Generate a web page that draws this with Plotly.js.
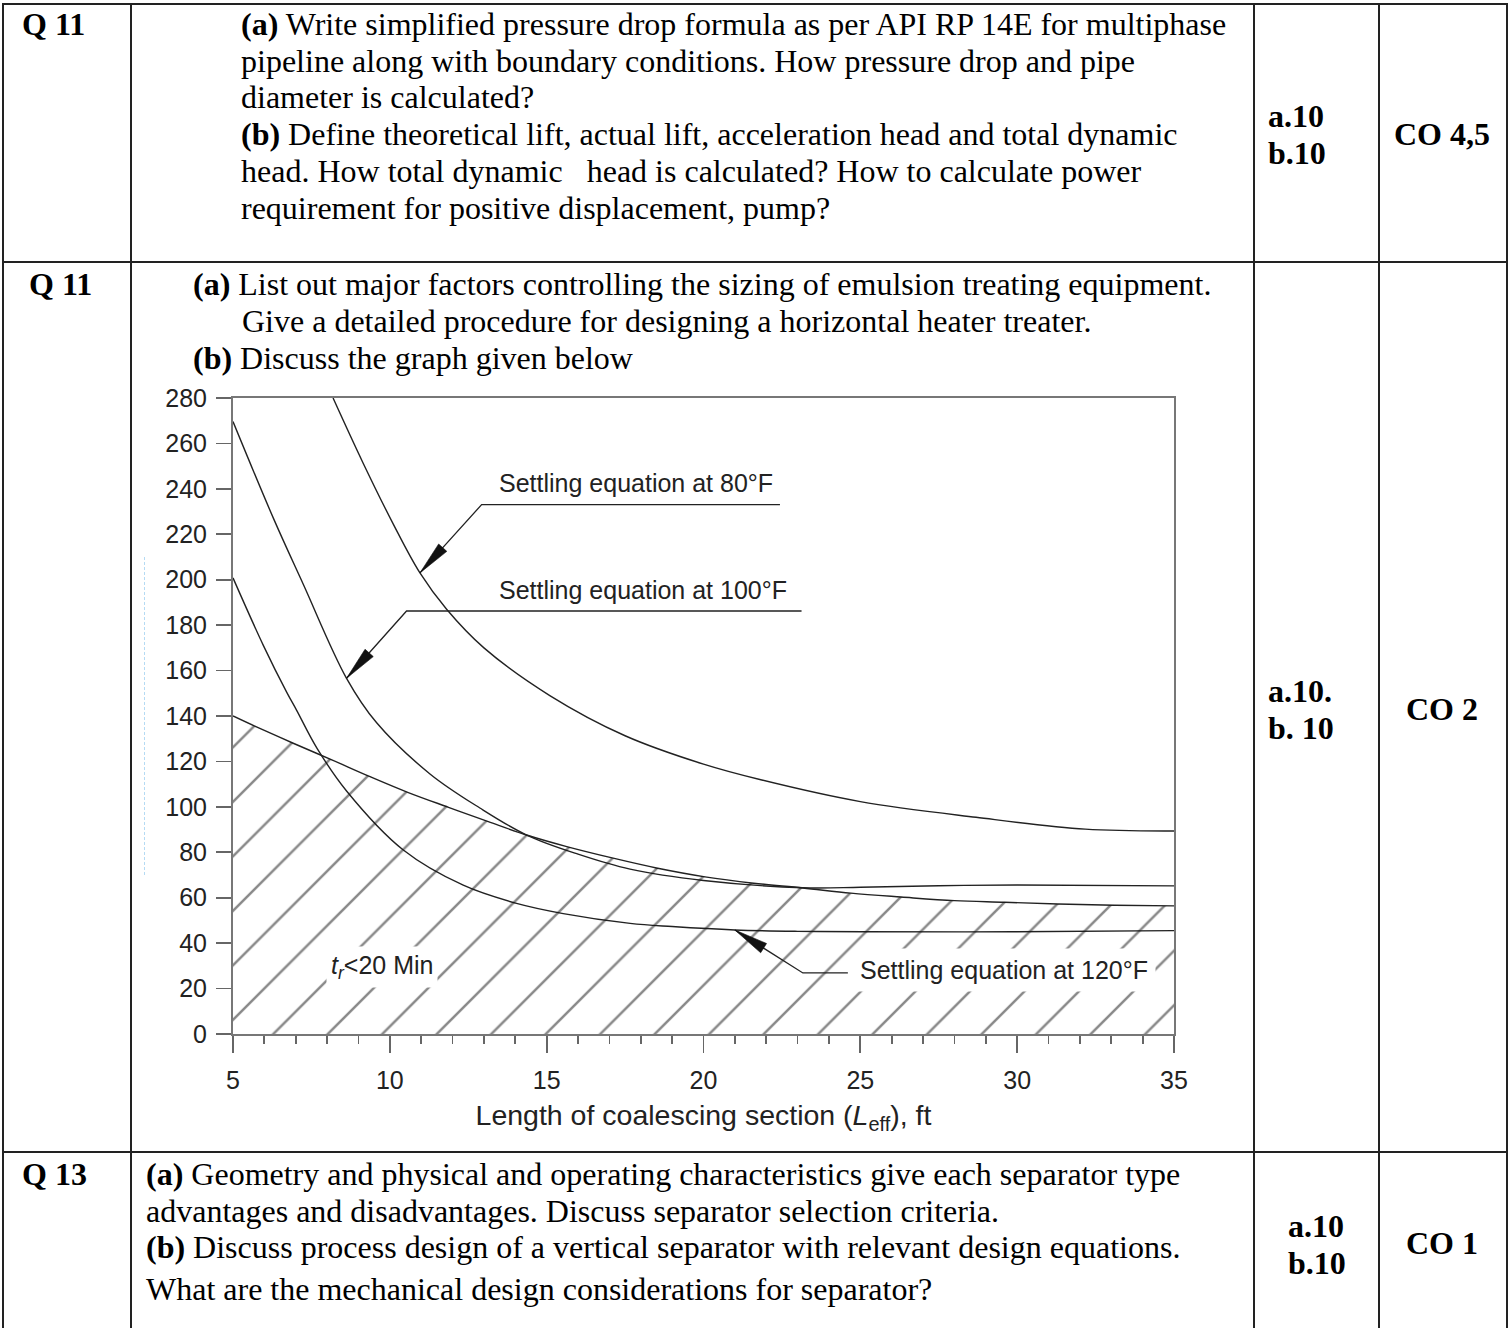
<!DOCTYPE html>
<html>
<head>
<meta charset="utf-8">
<script src="https://cdn.plot.ly/plotly-3.0.1.min.js"></script>
<style>
  body { margin: 0; background: #fff; }
  #page { position: relative; width: 1510px; height: 1328px; overflow: hidden; background: #fff; }
  #chart { position: absolute; left: 0; top: 0; width: 1510px; height: 1328px; }
  .t { position: absolute; font-family: "Liberation Serif", "Times New Roman", serif; color: #000; white-space: pre; }
  .ln { position: absolute; background: #222; }
</style>
</head>
<body>
<div id="page"><div id="chart"></div></div>
<script>
// ---------------- data ----------------
const xTickVals = [5, 10, 15, 20, 25, 30, 35];
const yTickVals = [0, 20, 40, 60, 80, 100, 120, 140, 160, 180, 200, 220, 240, 260, 280];

// Settling equation at 80°F
const x80 = [8.19, 9.15, 10.11, 10.96, 11.81, 13.0, 15.1, 17.5, 20.0, 21.86, 25.0, 28.69, 32.17, 35];
const y80 = [280, 251.3, 224.5, 203, 187, 170, 149, 131.3, 118.8, 111.8, 102.3, 95.4, 90.2, 89.4];
// Settling equation at 100°F
const x100 = [5, 6.29, 7.24, 8.62, 9.58, 11.28, 12.87, 14.36, 16.0, 17.66, 20.0, 23.17, 25.0, 27.5, 30.0, 35];
const y100 = [269.6, 227, 198, 156.6, 137, 114.5, 99.5, 87.6, 79.2, 72.6, 67.6, 64.4, 64.6, 65.3, 65.6, 65.2];
// Settling equation at 120°F
const x120 = [5, 5.97, 6.71, 7.03, 7.67, 8.62, 10.43, 12.34, 14.04, 15.53, 17.66, 19.0, 21.0, 23.0, 25.1, 29.9, 35];
const y120 = [200.8, 171, 150.5, 142.5, 126, 107, 81, 65.5, 57.5, 53, 48.7, 47.3, 45.8, 45.2, 45, 45, 45.5];
// Retention time limit line (t_r < 20 min below)
const xRet = [5, 5.73, 6.92, 8.15, 9.37, 10.59, 11.87, 13.14, 14.36, 15.64, 17.12, 18.5, 20.05, 21.6, 23.17, 24.7, 26.3, 28.0, 29.6, 31.3, 33.1, 35];
const yRet = [140, 135.3, 128, 120.7, 113.3, 106.3, 99.8, 93.5, 87.6, 82.5, 77.4, 73.1, 69.2, 66.4, 64.3, 62, 60.3, 58.7, 58, 57.2, 56.7, 56.4];

const curveLabels = ['Settling equation at 80°F', 'Settling equation at 100°F', 'Settling equation at 120°F'];
const arrowTipIndex = [3, 3, 12];          // point of each curve the arrow points at
const regionLabel = '<i>t<sub>r</sub></i>&lt;20 Min';
const regionLabelAt = [9.74, 29.6];
const xTitle = 'Length of coalescing section (<i>L</i><sub>eff</sub>), ft';

// table text
const qLabels = ['Q 11', 'Q 11', 'Q 13'];
const row1Lines = [
  '<b>(a)</b> Write simplified pressure drop formula as per API RP 14E for multiphase',
  'pipeline along with boundary conditions. How pressure drop and pipe',
  'diameter is calculated?',
  '<b>(b)</b> Define theoretical lift, actual lift, acceleration head and total dynamic',
  'head. How total dynamic   head is calculated? How to calculate power',
  'requirement for positive displacement, pump?'
];
const row2Lines = [
  '<b>(a)</b> List out major factors controlling the sizing of emulsion treating equipment.',
  'Give a detailed procedure for designing a horizontal heater treater.',
  '<b>(b)</b> Discuss the graph given below'
];
const row3Lines = [
  '<b>(a)</b> Geometry and physical and operating characteristics give each separator type',
  'advantages and disadvantages. Discuss separator selection criteria.',
  '<b>(b)</b> Discuss process design of a vertical separator with relevant design equations.',
  'What are the mechanical design considerations for separator?'
];
const marks = [['a.10', 'b.10'], ['a.10.', 'b. 10'], ['a.10', 'b.10']];
const coLabels = ['CO 4,5', 'CO 2', 'CO 1'];

// ---------------- page: table ----------------
const page = document.getElementById('page');
function hline(y, x0, x1) { const d = document.createElement('div'); d.className = 'ln'; Object.assign(d.style, {left: x0 + 'px', top: y + 'px', width: (x1 - x0) + 'px', height: '2px'}); page.appendChild(d); }
function vline(x, y0, y1) { const d = document.createElement('div'); d.className = 'ln'; Object.assign(d.style, {left: x + 'px', top: y0 + 'px', width: '2px', height: (y1 - y0) + 'px'}); page.appendChild(d); }
function txt(html, x, base, size, bold) {
  const d = document.createElement('div'); d.className = 't';
  d.style.left = x + 'px'; d.style.top = (base - 0.8375 * size) + 'px';
  d.style.fontSize = size + 'px'; d.style.lineHeight = size + 'px';
  if (bold) d.style.fontWeight = 'bold';
  d.innerHTML = html; page.appendChild(d);
}
hline(3, 2, 1508); hline(261, 2, 1508); hline(1151, 2, 1508);
[2, 130, 1253, 1378, 1506].forEach(x => vline(x, 3, 1328));

const FS = 32;
txt(qLabels[0], 22, 35, FS, true);
row1Lines.forEach((s, i) => txt(s, 241, 34.5 + 36.8 * i, FS));
txt(marks[0][0], 1268, 127, FS, true); txt(marks[0][1], 1268, 163.5, FS, true);
txt(coLabels[0], 1394, 145, FS, true);

txt(qLabels[1], 29, 295, FS, true);
txt(row2Lines[0], 193, 295, FS); txt(row2Lines[1], 242, 331.7, FS); txt(row2Lines[2], 193, 368.3, FS);
txt(marks[1][0], 1268, 701.7, FS, true); txt(marks[1][1], 1268, 738.3, FS, true);
txt(coLabels[1], 1406, 720, FS, true);

txt(qLabels[2], 22, 1185, FS, true);
[1185, 1221.7, 1258, 1300].forEach((b, i) => txt(row3Lines[i], 146, b, FS));
txt(marks[2][0], 1288, 1236.7, FS, true); txt(marks[2][1], 1288, 1273.3, FS, true);
txt(coLabels[2], 1406, 1253.3, FS, true);

// faint scan artefact left of the y axis
const art = document.createElement('div');
Object.assign(art.style, {position: 'absolute', left: '144px', top: '557px', height: '318px', width: '0', borderLeft: '1.5px dashed rgba(120,190,235,0.55)'});
page.appendChild(art);

// ---------------- chart ----------------
const PL = 233, PR = 1174, PT = 398, PB = 1034, W = 1510, H = 1328;
const INK = '#222';
const hatchStep = 54.5;               // horizontal spacing of hatch lines (px)
const hatchShift = 22.3;              // phase of the hatching (px)
const dShift = 1 - hatchShift / (PB - PT);

function curve(x, y) {
  return {x, y, type: 'scatter', mode: 'lines', hoverinfo: 'skip', showlegend: false,
          line: {color: INK, width: 1.4, shape: 'spline', smoothing: 1}};
}
const traces = [
  {x: xRet, y: yRet, xaxis: 'x2', yaxis: 'y2', type: 'scatter', mode: 'lines', hoverinfo: 'skip', showlegend: false,
   line: {width: 0, shape: 'spline', smoothing: 1}, fill: 'tozeroy', fillcolor: 'rgba(0,0,0,0)',
   fillpattern: {shape: '/', size: hatchStep / Math.SQRT2, solidity: 0.065,
                 fgcolor: '#111', bgcolor: 'rgba(0,0,0,0)', fillmode: 'overlay'}},
  curve(xRet, yRet), curve(x80, y80), curve(x100, y100), curve(x120, y120)
];

const curves = [[x80, y80], [x100, y100], [x120, y120]];
// leader geometry in pixels relative to arrow tip (x right, y up)
const leaders = [
  {elbow: [61.7, 68.3], end: [360, 68.3], label: [78, 89.5], bg: false},
  {elbow: [60, 67.3], end: [455, 67.3], label: [151, 88.5], bg: false},
  {elbow: [68, -43], end: [113, -43], label: [117, -40], bg: true}
];
const shapes = [], annotations = [];
leaders.forEach((L, i) => {
  const [cx, cy] = curves[i];
  const tx = cx[arrowTipIndex[i]], ty = cy[arrowTipIndex[i]];
  const base = {type: 'path', xref: 'x', yref: 'y', xsizemode: 'pixel', ysizemode: 'pixel', xanchor: tx, yanchor: ty};
  shapes.push(Object.assign({}, base, {path: `M0,0L${L.elbow[0]},${L.elbow[1]}L${L.end[0]},${L.end[1]}`, line: {color: INK, width: 1.3}}));
  const len = Math.hypot(L.elbow[0], L.elbow[1]);
  const ux = L.elbow[0] / len, uy = L.elbow[1] / len, px = -uy, py = ux;
  const hl = 34, hw = 5.5;
  const c1 = [hl * ux + hw * px, hl * uy + hw * py], c2 = [hl * ux - hw * px, hl * uy - hw * py];
  shapes.push(Object.assign({}, base, {path: `M0,0L${c1[0].toFixed(2)},${c1[1].toFixed(2)}L${c2[0].toFixed(2)},${c2[1].toFixed(2)}Z`,
                                       fillcolor: '#111', line: {color: '#111', width: 0.6}}));
  annotations.push({x: tx, y: ty, xref: 'x', yref: 'y', xanchor: 'left', yanchor: 'middle', xshift: L.label[0], yshift: L.label[1],
                    text: curveLabels[i], showarrow: false, font: {size: 25, color: INK},
                    bgcolor: L.bg ? '#fff' : 'rgba(0,0,0,0)', borderpad: L.bg ? 7 : 0});
});
annotations.push({x: regionLabelAt[0], y: regionLabelAt[1], xref: 'x', yref: 'y', text: regionLabel, showarrow: false,
                  font: {size: 25, color: INK}, bgcolor: '#fff', borderpad: 4});

const axisCommon = {showline: true, linecolor: '#777', linewidth: 2, mirror: true, ticks: 'outside', tickcolor: '#666', tickwidth: 1.8,
                    showgrid: false, zeroline: false, fixedrange: true, tickfont: {size: 25, color: INK}};
const layout = {
  width: W, height: H,
  margin: {l: PL, r: W - PR, t: PT, b: H - PB, pad: 0},
  paper_bgcolor: 'rgba(0,0,0,0)', plot_bgcolor: 'rgba(0,0,0,0)',
  font: {family: 'Liberation Sans, Arial, sans-serif', color: INK},
  showlegend: false,
  xaxis: Object.assign({}, axisCommon, {range: [5, 35], tickvals: xTickVals, ticklen: 17, ticklabelstandoff: 6,
    minor: {dtick: 1, tick0: 5, ticks: 'outside', ticklen: 8, tickwidth: 1.8, tickcolor: '#666', showgrid: false},
    title: {text: xTitle, font: {size: 28.5, color: INK}, standoff: 12}}),
  yaxis: Object.assign({}, axisCommon, {range: [0, 280], tickvals: yTickVals, ticklen: 15, ticklabelstandoff: 4}),
  xaxis2: {domain: [0, 1], range: [5, 35], anchor: 'y2', visible: false, fixedrange: true},
  yaxis2: {domain: [0, dShift], range: [0, 280 * dShift], anchor: 'x2', visible: false, fixedrange: true},
  shapes, annotations
};
Plotly.newPlot('chart', traces, layout, {staticPlot: true, displayModeBar: false});
</script>
</body>
</html>
